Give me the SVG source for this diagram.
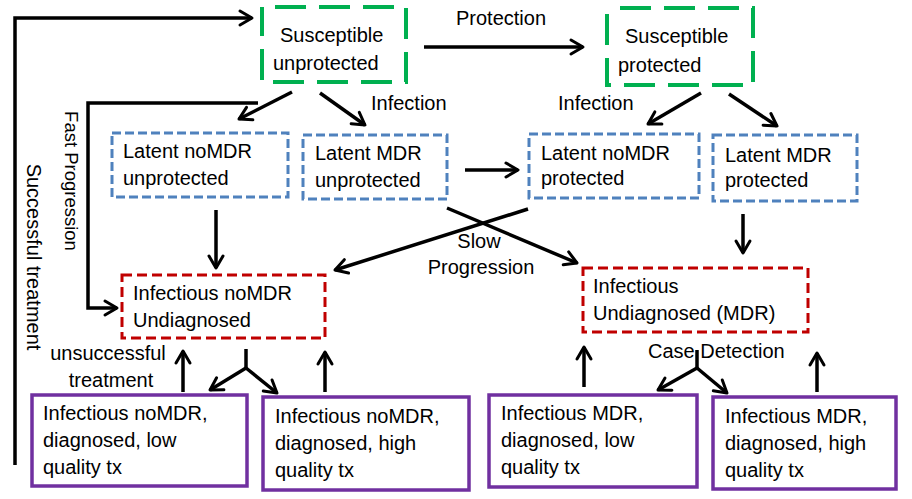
<svg xmlns="http://www.w3.org/2000/svg" width="912" height="499" viewBox="0 0 912 499">
<defs>
<marker id="ah" markerUnits="userSpaceOnUse" markerWidth="18" markerHeight="18" refX="13" refY="8" orient="auto" overflow="visible">
<path d="M1,1 L13,8 L1,15" fill="none" stroke="#000" stroke-width="3" stroke-linecap="round" stroke-linejoin="round"/>
</marker>
</defs>
<style>
text{font-family:"Liberation Sans",Arial,sans-serif;font-size:20px;fill:#000}
.g{fill:none;stroke:#00B050;stroke-width:4;stroke-dasharray:31 13;stroke-dashoffset:31}
.b{fill:none;stroke:#4F81BD;stroke-width:3;stroke-dasharray:9 4}
.r{fill:none;stroke:#C00000;stroke-width:3;stroke-dasharray:10 5}
.p{fill:none;stroke:#7030A0;stroke-width:3.5}
.c line,.c polyline{fill:none;stroke:#000;stroke-width:3.5}
.m{marker-end:url(#ah)}
</style>
<rect width="912" height="499" fill="#fff"/>
<g id="sus_unprot"><rect class="g" x="262" y="7" width="144" height="75"/><text x="280" y="42">Susceptible</text><text x="273" y="70">unprotected</text></g>
<g id="sus_prot"><rect class="g" x="607" y="8" width="146" height="77"/><text x="625" y="43">Susceptible</text><text x="618" y="72">protected</text></g>
<g id="lat_nomdr_unprot"><rect class="b" x="112" y="133" width="176" height="64"/><text x="123" y="158">Latent noMDR</text><text x="123" y="185">unprotected</text></g>
<g id="lat_mdr_unprot"><rect class="b" x="303" y="135" width="144" height="64"/><text x="315" y="160">Latent MDR</text><text x="315" y="187">unprotected</text></g>
<g id="lat_nomdr_prot"><rect class="b" x="529" y="134" width="170" height="64"/><text x="541" y="160">Latent noMDR</text><text x="541" y="185">protected</text></g>
<g id="lat_mdr_prot"><rect class="b" x="713" y="135" width="144" height="66"/><text x="725" y="162">Latent MDR</text><text x="725" y="187">protected</text></g>
<g id="inf_nomdr_undiag"><rect class="r" x="122" y="275" width="203" height="63"/><text x="133" y="300">Infectious noMDR</text><text x="133" y="327">Undiagnosed</text></g>
<g id="inf_mdr_undiag"><rect class="r" x="583" y="268" width="225" height="64"/><text x="593" y="293">Infectious</text><text x="593" y="320">Undiagnosed (MDR)</text></g>
<g id="inf_nomdr_low"><rect class="p" x="32" y="395" width="215" height="91"/><text x="43" y="420">Infectious noMDR,</text><text x="43" y="447">diagnosed, low</text><text x="43" y="474">quality tx</text></g>
<g id="inf_nomdr_high"><rect class="p" x="263" y="397" width="206" height="93"/><text x="275" y="423">Infectious noMDR,</text><text x="275" y="450">diagnosed, high</text><text x="275" y="477">quality tx</text></g>
<g id="inf_mdr_low"><rect class="p" x="489" y="395" width="208" height="92"/><text x="501" y="420">Infectious MDR,</text><text x="501" y="447">diagnosed, low</text><text x="501" y="474">quality tx</text></g>
<g id="inf_mdr_high"><rect class="p" x="713" y="397" width="183" height="92"/><text x="725" y="423">Infectious MDR,</text><text x="725" y="450">diagnosed, high</text><text x="725" y="477">quality tx</text></g>
<g id="labels">
<text x="456" y="25">Protection</text>
<text x="371" y="110">Infection</text>
<text x="558" y="110">Infection</text>
<text x="479" y="248" text-anchor="middle">Slow</text>
<text x="481" y="274" text-anchor="middle">Progression</text>
<text x="108" y="360" text-anchor="middle">unsuccessful</text>
<text x="111" y="387" text-anchor="middle">treatment</text>
<text x="648" y="358">Case Detection</text>
<text transform="translate(27,257) rotate(90)" text-anchor="middle">Successful treatment</text>
<text transform="translate(65,181) rotate(90)" text-anchor="middle" style="font-size:18.5px">Fast Progression</text>
</g>
<g id="connectors" class="c">
<polyline class="m" points="15,465 15,18 252,18"/>
<line class="m" x1="424" y1="47" x2="583" y2="47"/>
<polyline class="m" points="258,103 88,103 88,308 117,308"/>
<line class="m" x1="292" y1="92" x2="239" y2="119"/>
<line class="m" x1="320" y1="93" x2="365" y2="125"/>
<line class="m" x1="701" y1="93" x2="648" y2="124"/>
<line class="m" x1="729" y1="94" x2="777" y2="126"/>
<line class="m" x1="465" y1="170" x2="518" y2="170"/>
<line class="m" x1="216" y1="210" x2="216" y2="268"/>
<line class="m" x1="743" y1="214" x2="743" y2="253"/>
<line class="m" x1="447" y1="208" x2="577" y2="263"/>
<line class="m" x1="528" y1="209" x2="335" y2="270"/>
<line class="m" x1="183" y1="392" x2="183" y2="351"/>
<line class="m" x1="325" y1="392" x2="325" y2="352"/>
<line class="m" x1="584" y1="387" x2="584" y2="347"/>
<line class="m" x1="817" y1="392" x2="817" y2="353"/>
<line x1="246" y1="349" x2="246" y2="368"/>
<line class="m" x1="246" y1="368" x2="210" y2="390"/>
<line class="m" x1="246" y1="368" x2="277" y2="393"/>
<line x1="697" y1="350" x2="697" y2="368"/>
<line class="m" x1="697" y1="368" x2="658" y2="390"/>
<line class="m" x1="697" y1="368" x2="727" y2="393"/>
</g>
</svg>
